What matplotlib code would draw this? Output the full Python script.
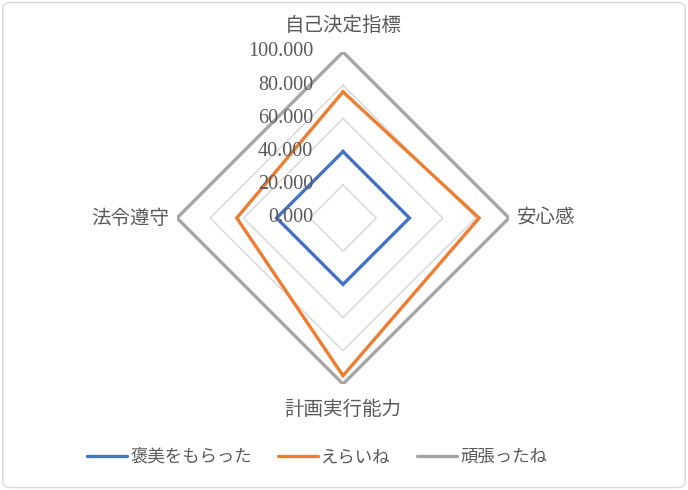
import matplotlib.pyplot as plt
import numpy as np
from matplotlib.patches import FancyBboxPatch
from matplotlib.lines import Line2D

categories = ['自己決定指標', '安心感', '計画実行能力', '法令遵守']
series_names = ['褒美をもらった', 'えらいね', '頑張ったね']
hoshu = [40, 40, 40, 40]
eraine = [76, 82, 95, 64]
ganbatta = [100, 100, 100, 100]
tick_values = [0, 20, 40, 60, 80, 100]

colors = ['#4472C4', '#ED7D31', '#A5A5A5']
grid_color = '#D9D9D9'
text_color = '#595959'
jp_font = ['Noto Sans CJK JP', 'DejaVu Sans']
px = 0.72  # points per pixel at dpi 100

fig = plt.figure(figsize=(6.88, 4.9), dpi=100)
fig.patches.append(FancyBboxPatch((0.004, 0.005), 0.992, 0.99, boxstyle='round,pad=0,rounding_size=0.012',
                                  transform=fig.transFigure, fc='white', ec=grid_color, lw=1.0, zorder=-1))

ax = fig.add_axes([177 / 688, 106 / 490, 332 / 688, 332 / 490], projection='polar')
ax.set_theta_offset(np.pi / 2)
ax.set_theta_direction(-1)
ax.set_ylim(0, 100)
ax.set_xticks([])
ax.set_yticks([])
ax.grid(False)
ax.spines['polar'].set_visible(False)
ax.patch.set_alpha(0)

n = len(categories)
angles = np.arange(n) * 2 * np.pi / n
closed = np.append(angles, angles[0])

# straight grid polygons
for v in tick_values[1:]:
    ax.plot(closed, [v] * (n + 1), color=grid_color, lw=1.1, zorder=1)

all_vals = [hoshu, eraine, ganbatta]
for vals, c in zip(all_vals, colors):
    ax.plot(closed, vals + vals[:1], color=c, lw=2.4, zorder=3, solid_joinstyle='miter')

# radial value labels
for v in tick_values:
    ax.annotate(f'{v:.3f}', xy=(0, v), xytext=(-30 * px, 0), textcoords='offset points',
                ha='right', va='center', fontsize=14.5, color=text_color, family='Liberation Serif')

# category labels
offsets = [(0, 27, 'center'), (8, 0, 'left'), (0, -25, 'center'), (-8, 0, 'right')]
for a, lab, (dx, dy, ha) in zip(angles, categories, offsets):
    ax.annotate(lab, xy=(a, 100), xytext=(dx * px, dy * px), textcoords='offset points',
                ha=ha, va='center', fontsize=14, color=text_color, family=jp_font)

handles = [Line2D([], [], color=c, lw=2.4, solid_capstyle='round') for c in colors]
leg = fig.legend(handles, series_names, loc='center', bbox_to_anchor=(317 / 688, 1 - 457 / 490),
                 ncol=3, frameon=False, handlelength=2.3, handletextpad=0.2, columnspacing=1.5,
                 prop={'family': jp_font, 'size': 12.5})
for t in leg.get_texts():
    t.set_color(text_color)

fig.savefig('out.png', dpi=100)
